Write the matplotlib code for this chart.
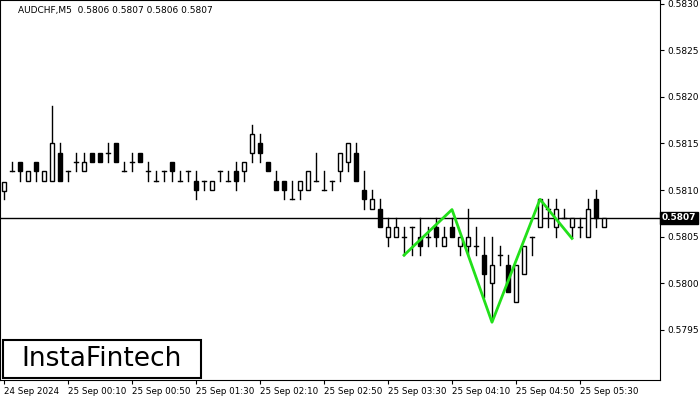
import matplotlib
matplotlib.use("Agg")
import matplotlib.pyplot as plt
from matplotlib.patches import Rectangle

opens = [0.58099,0.5812,0.5813,0.5811,0.5813,0.5811,0.5811,0.5814,0.5812,0.5813,
         0.5812,0.5814,0.5814,0.5814,0.5815,0.5812,0.5813,0.5814,0.5812,0.5811,
         0.5812,0.5813,0.5811,0.5812,0.5811,0.5811,0.5810,0.5812,0.5811,0.5812,
         0.5812,0.5814,0.5815,0.5813,0.5811,0.5811,0.5809,0.5810,0.5810,0.5811,
         0.5810,0.5811,0.5812,0.5813,0.5814,0.5810,0.5808,0.5808,0.5805,0.5805,
         0.5805,0.5806,0.5805,0.5805,0.5806,0.5804,0.5806,0.5804,0.5804,0.5804,
         0.5803,0.5800,0.5803,0.5802,0.5798,0.5801,0.5805,0.5806,0.5808,0.5806,
         0.5807,0.5806,0.5806,0.5805,0.5809,0.5806]
highs = [0.58109,0.5813,0.5813,0.5812,0.5813,0.5812,0.5819,0.58151,0.5812,0.5814,
         0.5814,0.5814,0.5814,0.58151,0.5815,0.5813,0.5814,0.5814,0.5813,0.5812,
         0.5812,0.5813,0.5812,0.5812,0.5812,0.5811,0.5811,0.5812,0.5812,0.5813,
         0.5813,0.5817,0.5816,0.5813,0.5812,0.5811,0.5811,0.5811,0.5812,0.5814,
         0.5812,0.5811,0.5814,0.5815,0.5815,0.5812,0.5810,0.5809,0.5807,0.5807,
         0.5806,0.5806,0.5807,0.5806,0.5807,0.5806,0.5807,0.5805,0.5808,0.5806,
         0.5805,0.5805,0.5804,0.5803,0.5802,0.5804,0.5805,0.5809,0.5809,0.5809,
         0.5808,0.5807,0.5807,0.5809,0.5810,0.5807]
lows = [0.5809,0.5812,0.5811,0.5811,0.5811,0.5811,0.5811,0.5811,0.5811,0.5812,
        0.5812,0.5813,0.5813,0.5813,0.5813,0.5812,0.5812,0.5813,0.5811,0.5811,
        0.5811,0.5811,0.5811,0.5811,0.5809,0.5810,0.5810,0.5811,0.5811,0.5810,
        0.5811,0.5813,0.5813,0.5812,0.5810,0.5809,0.5809,0.5809,0.5810,0.5811,
        0.5810,0.5810,0.5811,0.5812,0.5811,0.5808,0.5808,0.5806,0.5804,0.5805,
        0.5803,0.5803,0.5803,0.5804,0.5804,0.5804,0.5805,0.5803,0.5803,0.5803,
        0.57985,0.5796,0.5802,0.5799,0.5798,0.5801,0.5803,0.5806,0.5806,0.5805,
        0.5807,0.5805,0.5805,0.5805,0.5806,0.5806]
closes = [0.58109,0.5812,0.5812,0.5812,0.5812,0.5812,0.5815,0.5811,0.5812,0.5813,
          0.5813,0.5813,0.5813,0.5814,0.5813,0.5812,0.5813,0.5813,0.5812,0.5811,
          0.5812,0.5812,0.5811,0.5812,0.5810,0.5811,0.5811,0.5812,0.5811,0.5811,
          0.5813,0.5816,0.5814,0.5812,0.5810,0.5810,0.5809,0.5811,0.5812,0.5811,
          0.5810,0.5811,0.5814,0.5815,0.5811,0.5809,0.5809,0.5806,0.5806,0.5806,
          0.5805,0.5806,0.5804,0.5805,0.5805,0.5805,0.5805,0.5805,0.5805,0.5804,
          0.5801,0.5802,0.5803,0.5799,0.5802,0.5804,0.5805,0.5809,0.5808,0.5808,
          0.5807,0.5807,0.5806,0.5808,0.5807,0.5807]

pattern_idx = [50, 56, 61, 67, 71]
pattern_px = [0.5803, 0.58079, 0.57958, 0.58090, 0.58048]

yticks = [0.5795, 0.5800, 0.5805, 0.5810, 0.5815, 0.5820, 0.5825, 0.5830]
xtick_idx = [0, 8, 16, 24, 32, 40, 48, 56, 64, 72]
xtick_labels = ["24 Sep 2024", "25 Sep 00:10", "25 Sep 00:50", "25 Sep 01:30",
                "25 Sep 02:10", "25 Sep 02:50", "25 Sep 03:30", "25 Sep 04:10",
                "25 Sep 04:50", "25 Sep 05:30"]
current = 0.5807
title = "AUDCHF,M5  0.5806 0.5807 0.5806 0.5807"

fig = plt.figure(figsize=(7, 4), dpi=100)
ax = fig.add_axes([0, 20/400, 660/700, 380/400])
ax.set_xlim(-0.5, 82)
ax.set_ylim(0.57896, 0.58304)

w = 0.6
for i, (o, h, l, c) in enumerate(zip(opens, highs, lows, closes)):
    top, bot = max(o, c), min(o, c)
    ax.plot([i, i], [top, h], color="black", lw=1, zorder=2)
    ax.plot([i, i], [l, bot], color="black", lw=1, zorder=2)
    if abs(c - o) < 1e-7:
        ax.plot([i - w/2, i + w/2], [o, o], color="black", lw=1, zorder=3)
    else:
        ax.add_patch(Rectangle((i - w/2, bot), w, top - bot,
                               facecolor="black" if c < o else "white",
                               edgecolor="black", lw=1, zorder=3))

ax.axhline(current, color="black", lw=1, zorder=1)
ax.plot(pattern_idx, pattern_px, color="#22e01a", lw=2, zorder=4)

ax.yaxis.tick_right()
ax.set_yticks(yticks)
ax.set_yticklabels([f"{v:.4f}" for v in yticks], fontsize=6.5)
ax.set_xticks(xtick_idx)
ax.set_xticklabels(xtick_labels, fontsize=6.3, ha="left")
ax.tick_params(axis="both", length=3, pad=2)

ax.text(1.003, (current - 0.57896) / (0.58304 - 0.57896), f"{current:.4f}",
        transform=ax.transAxes, fontsize=6.5, color="white", va="center", ha="left",
        fontweight="bold",
        bbox=dict(boxstyle="square,pad=0.2", facecolor="black", edgecolor="black"))

ax.text(0.027, 0.985, title, transform=ax.transAxes, fontsize=6.5, va="top", ha="left")

fig.patches.append(Rectangle((3/700, 22/400), 198/700, 38/400, transform=fig.transFigure,
                             facecolor="white", edgecolor="black", lw=1.5, zorder=10))
fig.text(102/700, 41/400, "InstaFintech", fontsize=19, ha="center", va="center", zorder=11)

fig.savefig("out.png", dpi=100)
